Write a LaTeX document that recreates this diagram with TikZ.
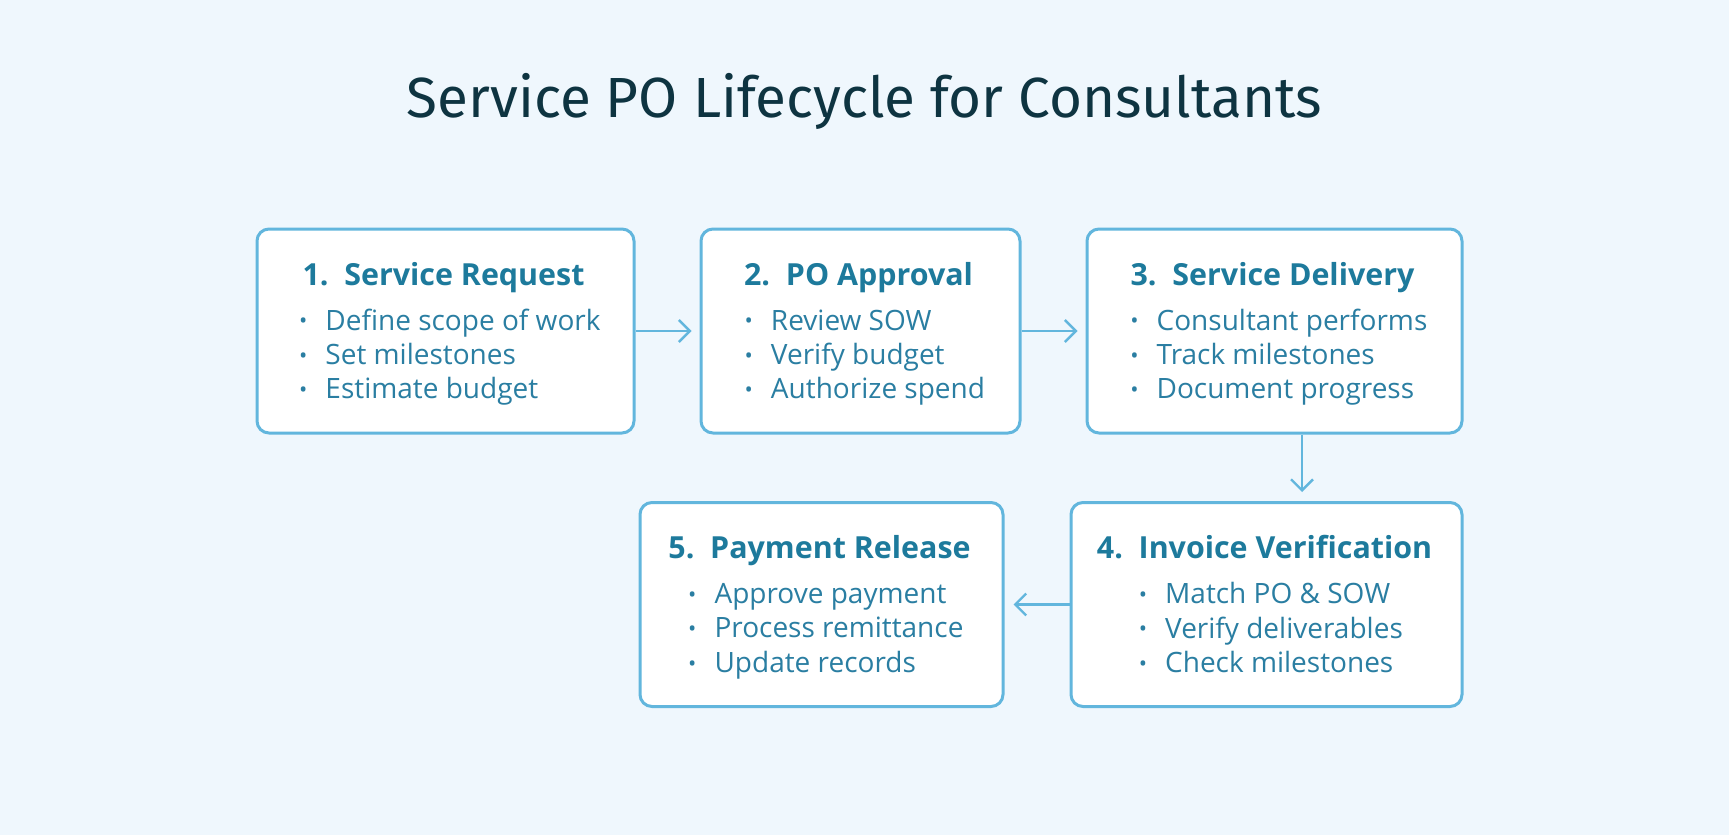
\documentclass[tikz,border=0pt]{standalone}
\usepackage{fontspec}
\setmainfont{Open Sans}
\newfontfamily\titlefont{Fira Sans}
\usetikzlibrary{arrows.meta}
\definecolor{bgc}{HTML}{EFF7FD}
\definecolor{bordc}{HTML}{62B6DD}
\definecolor{headc}{HTML}{1D7A9C}
\definecolor{bodyc}{HTML}{2A7EA2}
\definecolor{titlec}{HTML}{0E3441}
\newcommand{\bul}[1]{\makebox[13.5pt][l]{\hspace{0.3pt}\raisebox{0.6pt}{\fontsize{11}{10}\selectfont•}}#1}
\newcommand{\stepbody}[4]{%
  \begin{tabular}{@{}c@{}}
  {\fontsize{15.2}{18}\selectfont\bfseries\color{headc}#1}\\[6.8pt]
  \hspace*{6pt}{\fontsize{14}{17.2}\selectfont\color{bodyc}\begin{tabular}{@{}l@{}}\bul{#2}\\\bul{#3}\\\bul{#4}\end{tabular}}
  \end{tabular}}
\tikzset{
  stepbox/.style={draw=bordc, line width=1.5pt, fill=white, rounded corners=6pt, inner sep=0pt, minimum height=102pt},
  content/.style={inner sep=0pt, align=center},
  arr/.style={draw=bordc, line width=1.2pt, -{Straight Barb[length=5.5pt,width=11pt,line width=1.2pt]}}
}
\begin{document}
\begin{tikzpicture}[x=0.5pt,y=-0.5pt]
\fill[bgc] (0,0) rectangle (1729,835);
\node[text=titlec, font=\titlefont\fontsize{28.3}{32}\selectfont, inner sep=0pt] (title) at (864.5,101) {Service PO Lifecycle for Consultants};

\node[stepbox, minimum width=188.5pt] (b1) at (445.5,331) {};
\node[stepbox, minimum width=159.5pt] (b2) at (860.5,331) {};
\node[stepbox, minimum width=187.5pt] (b3) at (1274.5,331) {};
\node[stepbox, minimum width=195.5pt] (b4) at (1266.5,604.5) {};
\node[stepbox, minimum width=181.5pt] (b5) at (821.5,604.5) {};

\node[content] (t1) at ([xshift=-1pt,yshift=-2.3pt]b1.center) {\stepbody{1.\ \ Service Request}{Define scope of work}{Set milestones}{Estimate budget}};
\node[content] (t2) at ([xshift=-1pt,yshift=-2.3pt]b2.center) {\stepbody{2.\ \ PO Approval}{Review SOW}{Verify budget}{Authorize spend}};
\node[content] (t3) at ([xshift=-1pt,yshift=-2.3pt]b3.center) {\stepbody{3.\ \ Service Delivery}{Consultant performs}{Track milestones}{Document progress}};
\node[content] (t4) at ([xshift=-1pt,yshift=-2.3pt]b4.center) {\stepbody{4.\ \ Invoice Verification}{Match PO \& SOW}{Verify deliverables}{Check milestones}};
\node[content] (t5) at ([xshift=-1pt,yshift=-2.3pt]b5.center) {\stepbody{5.\ \ Payment Release}{Approve payment}{Process remittance}{Update records}};

\coordinate (d3) at (1302,0);
\draw[arr] (b1.east) -- ([xshift=-4pt]b2.west);
\draw[arr] (b2.east) -- ([xshift=-4pt]b3.west);
\draw[arr] (b3.south -| d3) -- ([yshift=4.5pt]b4.north -| d3);
\draw[arr] (b4.west) -- ([xshift=4.5pt]b5.east);
\end{tikzpicture}
\end{document}
